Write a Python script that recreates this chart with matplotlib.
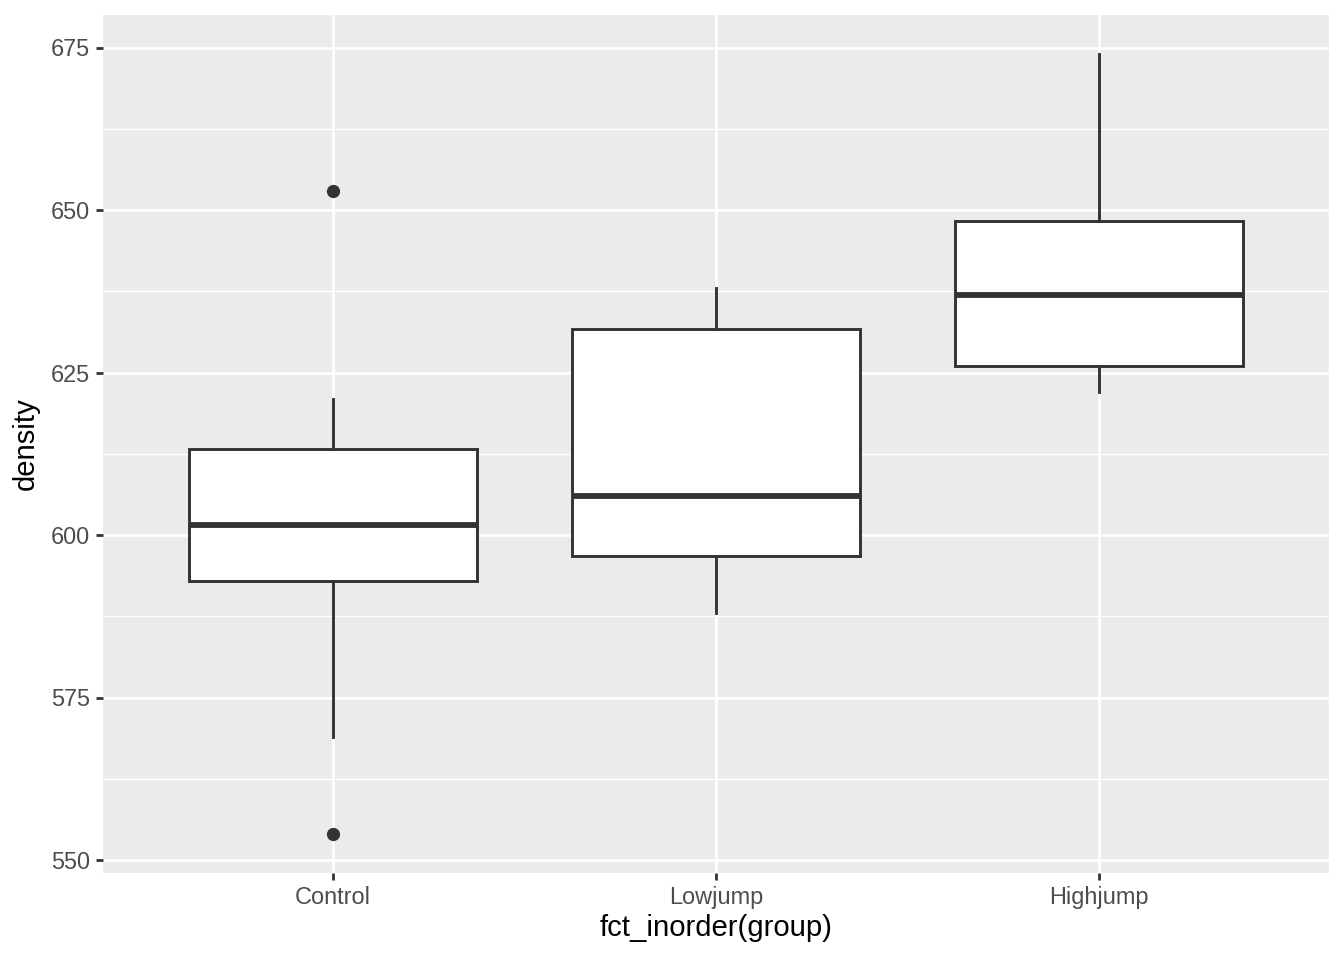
import matplotlib
matplotlib.use("Agg")
import matplotlib.pyplot as plt
import numpy as np

groups = ["Control", "Lowjump", "Highjump"]
control = [611, 621, 614, 593, 593, 653, 600, 554, 603, 569]
lowjump = [635, 605, 638, 594, 599, 632, 631, 588, 607, 596]
highjump = [650, 622, 626, 626, 631, 622, 643, 674, 643, 650]
yticks = [550, 575, 600, 625, 650, 675]
xlabel = "fct_inorder(group)"
ylabel = "density"

plt.rcParams['font.family'] = ['Liberation Sans', 'DejaVu Sans']

fig = plt.figure(figsize=(13.44, 9.6), dpi=100)
ax = fig.add_axes([103/1344, 1 - 873/960, (1329-103)/1344, (873-15)/960])
ax.set_facecolor("#EBEBEB")

dark = "#333333"
data = [control, lowjump, highjump]
positions = np.arange(1, len(groups) + 1)

# grid
ax.set_xlim(0.4, 3.6)
ax.set_ylim(548.0, 680.0)
minor = [(a + b) / 2 for a, b in zip(yticks[:-1], yticks[1:])]
ax.set_yticks(minor, minor=True)
ax.grid(which="major", color="white", linewidth=1.9, zorder=0)
ax.grid(which="minor", axis="y", color="white", linewidth=0.95, zorder=0)
ax.set_axisbelow(True)

ax.boxplot(data, positions=positions, widths=0.75, whis=1.5, patch_artist=True,
           boxprops=dict(facecolor="white", edgecolor=dark, linewidth=2.1),
           medianprops=dict(color=dark, linewidth=4.2),
           whiskerprops=dict(color=dark, linewidth=2.1),
           capprops=dict(linewidth=0),
           showcaps=False,
           flierprops=dict(marker="o", markerfacecolor=dark, markeredgecolor=dark,
                           markersize=8.5),
           zorder=3)

ax.set_xticks(positions)
ax.set_xticklabels(groups)
ax.set_yticks(yticks)
ax.set_yticklabels([str(t) for t in yticks])

for s in ax.spines.values():
    s.set_visible(False)
ax.tick_params(axis="both", which="major", length=5.3, width=2.0, color=dark,
               labelsize=16.9, labelcolor="#4D4D4D", pad=4)
ax.tick_params(axis="y", which="minor", length=0)

ax.set_xlabel(xlabel, fontsize=21.1, color="black", labelpad=4)
ax.set_ylabel(ylabel, fontsize=21.1, color="black", labelpad=8)

fig.savefig("out.png", dpi=100, facecolor="white")
